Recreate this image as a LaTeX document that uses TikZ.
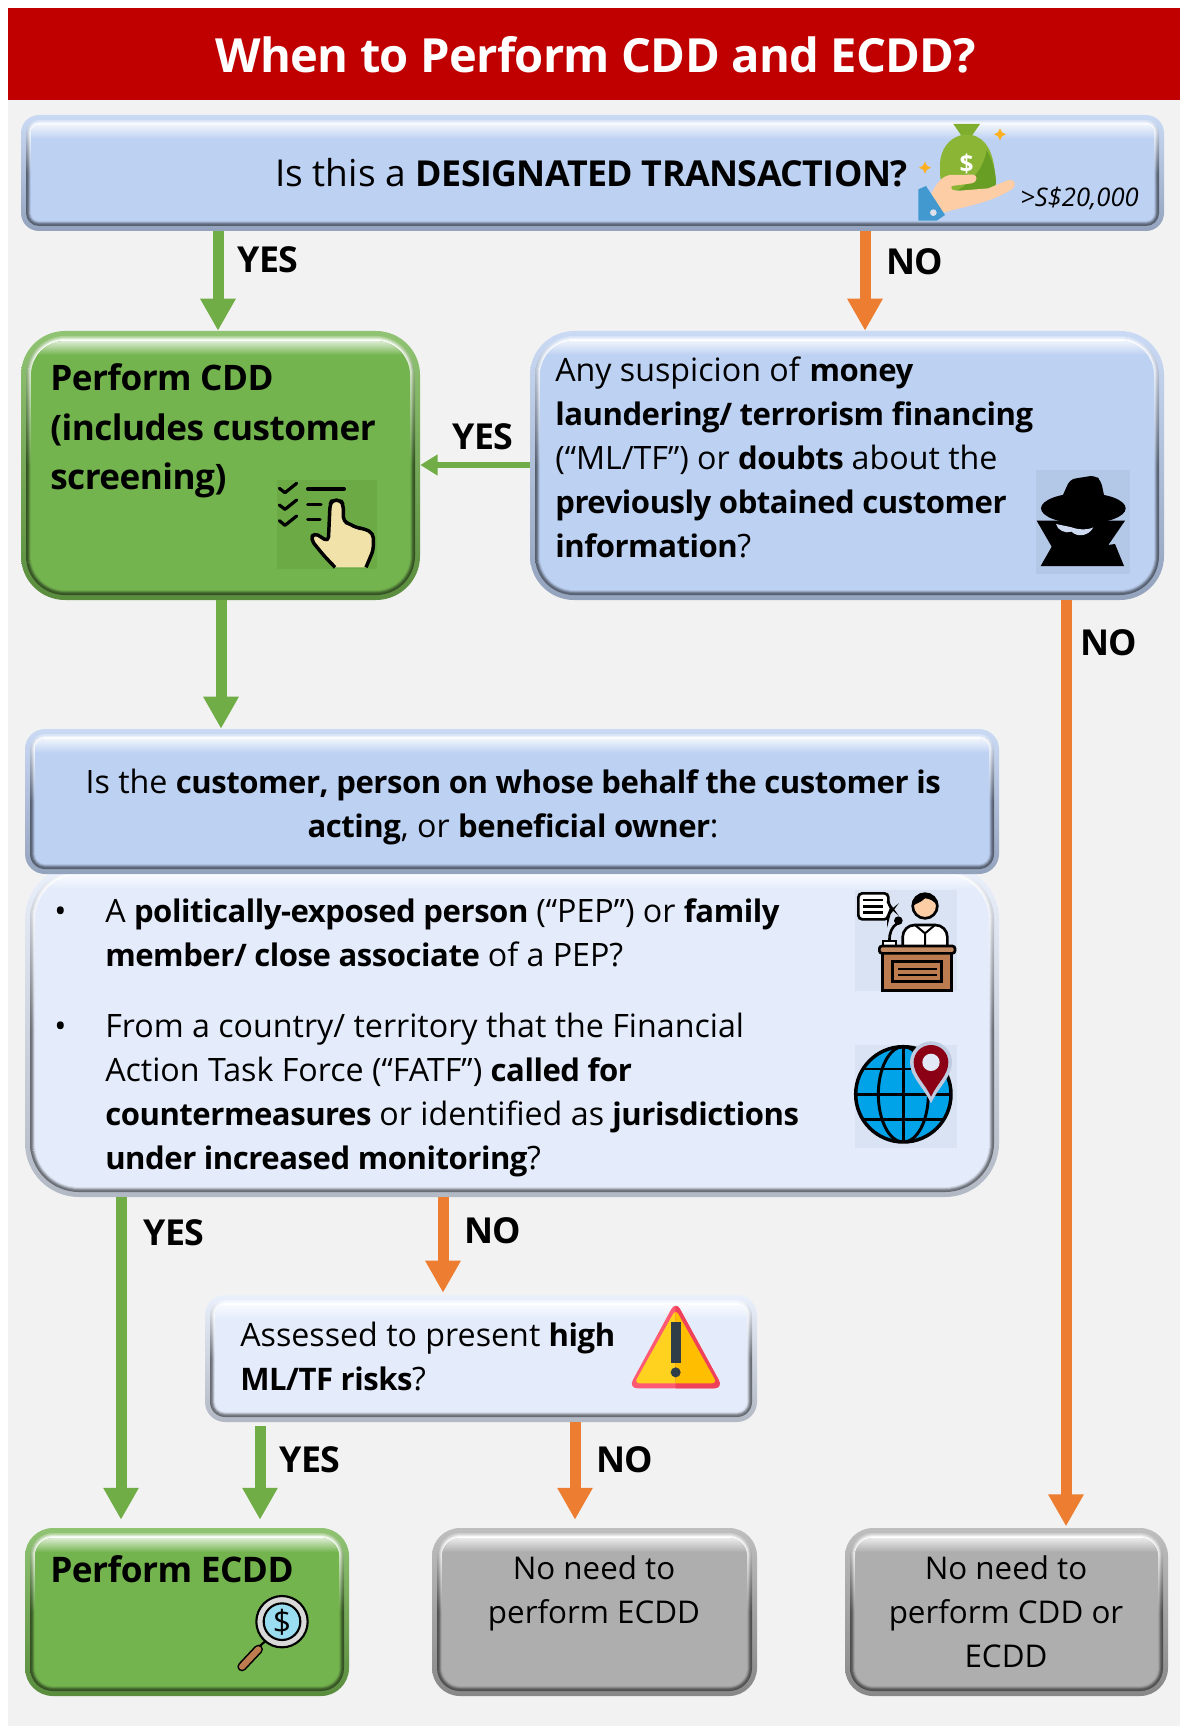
\documentclass[tikz,border=0pt]{standalone}
\usepackage{fontspec}
\setmainfont{Open Sans}[BoldFeatures={Scale=0.965,LetterSpace=-1.5}]
\usetikzlibrary{arrows.meta,fit,calc}
\definecolor{pagebg}{HTML}{F2F2F2}
\definecolor{headred}{HTML}{C00000}
\definecolor{bluebox}{HTML}{BDD1F2}
\definecolor{palebox}{HTML}{E4ECFB}
\definecolor{greenbox}{HTML}{74B44F}
\definecolor{greybox}{HTML}{AEAEAE}
\definecolor{greenarrow}{HTML}{70AD47}
\definecolor{orangearrow}{HTML}{ED7D31}
\definecolor{color-hand}{HTML}{F0E2A8}
\definecolor{color-skin}{HTML}{FDCDA5}
\definecolor{color-wood}{HTML}{BC7C50}
\definecolor{color-sea}{HTML}{00A2E8}
\definecolor{color-warn}{HTML}{FFD21F}
\definecolor{color-warnb}{HTML}{FFBE00}
\definecolor{color-lens}{HTML}{9ADCF0}
\definecolor{spark}{HTML}{FDB022}
\definecolor{bagtop}{HTML}{7FAE2E}
\newcommand\bevelbox[7]{%
  \begingroup
  \colorlet{bevbase}{#7}%
  \coordinate (#1-a) at (#2,#3);
  \coordinate (#1-b) at (#4,#5);
  \shade[rounded corners=#6*.75pt,top color=bevbase!80!white,bottom color=bevbase!78!black] (#2,#3) rectangle (#4,#5);
  \foreach \ins/\lt/\dk in {5/60/45,6/50/50,7/30/60,8/10/78,9/0/92}{
    \pgfmathsetmacro\xa{#2+\ins}\pgfmathsetmacro\ya{#3+\ins}
    \pgfmathsetmacro\xb{#4-\ins}\pgfmathsetmacro\yb{#5-\ins}
    \pgfmathsetmacro\rr{max(#6-\ins,3)}
    \shade[rounded corners=\rr*.75pt,top color=bevbase!\lt!white,bottom color=bevbase!\dk!black,middle color=bevbase!\dk!black] (\xa,\ya) rectangle (\xb,\yb);
  }
  \pgfmathsetmacro\xa{#2+10}\pgfmathsetmacro\ya{#3+10}
  \pgfmathsetmacro\xb{#4-10}\pgfmathsetmacro\yb{#5-10}
  \pgfmathsetmacro\rr{max(#6-10,3)}
  \fill[bevbase,rounded corners=\rr*.75pt] (\xa,\ya) rectangle (\xb,\yb);
  \pgfmathsetmacro\yc{\ya+14}
  \begin{scope}
    \clip[rounded corners=\rr*.75pt] (\xa,\ya) rectangle (\xb,\yb);
    \shade[top color=bevbase!25!white,bottom color=bevbase] (\xa,\ya) rectangle (\xb,\yc);
  \end{scope}
  \node[inner sep=0pt,fit=(#1-a)(#1-b)] (#1) {};
  \endgroup
}
\tikzset{
  x=.75pt,y=-.75pt,
  yesarrow/.style={line width=8.25pt,greenarrow,-{Triangle[length=24pt,width=25pt]}},
  noarrow/.style={line width=8.25pt,orangearrow,-{Triangle[length=24pt,width=25pt]}},
  txt/.style={inner sep=0pt,anchor=base west,align=left,text=black},
  ctr/.style={inner sep=0pt,anchor=base,align=center,text=black},
  lab/.style={inner sep=0pt,anchor=base west,font=\fontsize{27.8}{30}\selectfont\bfseries},
  body/.style={font=\fontsize{24.15}{33}\selectfont},
  greytext/.style={font=\fontsize{23.5}{33}\selectfont},
  zoomed/.style={x=.25pt,y=-.25pt},
}
\begin{document}
\begin{tikzpicture}[x=.75pt,y=-.75pt]
\useasboundingbox (0,0) rectangle (1180,1726);
\fill[white] (0,0) rectangle (1180,1726);
\fill[pagebg] (8,100) rectangle (1180,1726);
\fill[headred] (8,8) rectangle (1180,100);
\node[ctr,text=white,font=\fontsize{36.6}{42}\selectfont\bfseries] (title) at (596,73) {When to Perform CDD and ECDD?};

% boxes
\bevelbox{qone}{21}{115}{1164}{231}{18}{bluebox}
\bevelbox{cdd}{21}{331}{420}{600}{44}{greenbox}
\bevelbox{susp}{530}{331}{1164}{600}{44}{bluebox}
\bevelbox{list}{25}{865}{999}{1197}{54}{palebox}
\bevelbox{cust}{25}{729}{999}{874}{20}{bluebox}
\bevelbox{risk}{205}{1295}{757}{1422}{20}{palebox}
\bevelbox{ecdd}{25}{1528}{349}{1696}{28}{greenbox}
\bevelbox{noe}{432}{1528}{757}{1696}{28}{greybox}
\bevelbox{noc}{845}{1528}{1168}{1696}{28}{greybox}

% connector columns
\coordinate (xa) at (218,0);
\coordinate (xb) at (865,0);
\coordinate (xc) at (221,0);
\coordinate (xd) at (121,0);
\coordinate (xe) at (443,0);
\coordinate (xf) at (260,0);
\coordinate (xg) at (575,0);
\coordinate (xh) at (1066,0);
\coordinate (ya) at (0,465);

\draw[yesarrow] (qone.south -| xa) -- (cdd.north -| xa);
\draw[noarrow] (qone.south -| xb) -- (susp.north -| xb);
\draw[greenarrow,line width=4.5pt,-{Triangle[length=13pt,width=15pt]}] (susp.west |- ya) -- (cdd.east |- ya);
\draw[yesarrow] (cdd.south -| xc) -- (cust.north -| xc);
\draw[yesarrow,shorten >=6pt] (list.south -| xd) -- (ecdd.north -| xd);
\draw[noarrow,shorten >=1.5pt] (list.south -| xe) -- (risk.north -| xe);
\draw[yesarrow,shorten >=6pt,shorten <=3pt] (risk.south -| xf) -- (ecdd.north -| xf);
\draw[noarrow,shorten >=6pt] (risk.south -| xg) -- (noe.north -| xg);
\draw[noarrow,shorten >=1pt] (susp.south -| xh) -- (noc.north -| xh);

% labels
\node[lab] (l1) at (237,273) {YES};
\node[lab] (l2) at (886,275) {NO};
\node[lab] (l3) at (452,449) {YES};
\node[lab] (l4) at (1080,655) {NO};
\node[lab] (l5) at (143,1245) {YES};
\node[lab] (l6) at (464,1243) {NO};
\node[lab] (l7) at (279,1472) {YES};
\node[lab] (l8) at (596,1472) {NO};

% texts
\node[txt,font=\fontsize{27.8}{30}\selectfont] (t1) at (275,187) {Is this a \textbf{DESIGNATED TRANSACTION?}};
\node[txt,font=\fontsize{19.2}{22}\selectfont\itshape] (t1b) at (1020,207) {>S\$20,000};
\node[txt,font=\fontsize{27.3}{37}\selectfont\bfseries] (t2) at (50,489.5) {Perform CDD\\(includes customer\\screening)};
\node[txt,body] (t3) at (555,557) {Any suspicion of \textbf{money}\\\textbf{laundering/ terrorism financing}\\(“ML/TF”) or \textbf{doubts} about the\\\textbf{previously obtained customer}\\\textbf{information}?};
\node[ctr,body] (t4) at (513,837) {Is the \textbf{customer, person on whose behalf the customer is}\\\textbf{acting}, or \textbf{beneficial owner}:};
\node[txt,body] (b1) at (54,922) {•};
\node[txt,body] (t5) at (105,966.5) {A \textbf{politically-exposed person} (“PEP”) or \textbf{family}\\\textbf{member/ close associate} of a PEP?};
\node[txt,body] (b2) at (54,1037) {•};
\node[txt,body] (t6) at (105,1169) {From a country/ territory that the Financial\\Action Task Force (“FATF”) \textbf{called for}\\\textbf{countermeasures} or identified as \textbf{jurisdictions}\\\textbf{under increased monitoring}?};
\node[txt,body] (t7) at (240,1390) {Assessed to present \textbf{high}\\\textbf{ML/TF risks}?};
\node[txt,font=\fontsize{27.4}{32}\selectfont\bfseries] (t8) at (50,1582) {Perform ECDD};
\node[ctr,greytext] (t9) at (594,1623) {No need to\\perform ECDD};
\node[ctr,greytext] (t10) at (1006,1667) {No need to\\perform CDD or\\ECDD};

% money icon
\begin{scope}[shift={(820,100)},zoomed]
\fill[spark] (540,85)--(546,97)--(558,103)--(546,109)--(540,121)--(534,109)--(522,103)--(534,97)--cycle;
\fill[spark] (315,185)--(321,197)--(333,203)--(321,209)--(315,221)--(309,209)--(297,203)--(309,197)--cycle;
\fill[bagtop] (400,72)--(480,72)--(455,108)--(425,108)--cycle;
\fill[color={rgb,255:red,139;green,181;blue,53}] (425,105) -- (455,105) .. controls (500,115) and (520,160) .. (525,220) .. controls (530,250) and (530,272) .. (505,272) -- (410,272) .. controls (385,272) and (360,260) .. (360,220) -- (360,190) .. controls (362,150) and (385,115) .. (425,105) -- cycle;
\fill[color={rgb,255:red,105;green,158;blue,37}] (500,150) .. controls (515,175) and (522,200) .. (525,220) .. controls (530,250) and (530,272) .. (505,272) -- (410,272) .. controls (450,250) and (490,210) .. (500,150) -- cycle;
\node[inner sep=0pt,text=white,font=\fontsize{19}{20}\selectfont\bfseries] (dollar) at (440,192) {\$};
\fill[color-skin] (330,290) .. controls (345,255) and (365,228) .. (390,225) -- (460,224) .. controls (472,225) and (475,245) .. (455,250) -- (395,258) .. controls (390,268) and (400,274) .. (420,272) -- (505,265) -- (565,240) .. controls (585,238) and (592,255) .. (575,268) .. controls (510,310) and (430,320) .. (370,338) -- cycle;
\fill[color={rgb,255:red,66;green,153;blue,208}] (295,268) -- (318,258) -- (375,345) -- (350,362) -- (295,362) -- cycle;
\fill[color={rgb,255:red,220;green,225;blue,235}] (340,338) circle (10);
\end{scope}

% checklist icon
\begin{scope}[shift={(240,450)},zoomed]
\fill[color={rgb,255:red,107;green,170;blue,68}] (110,90) rectangle (410,358);
\draw[black,line width=2.4pt,line cap=round,line join=round] (118,115)--(135,128)--(170,100) (118,165)--(135,178)--(170,150) (118,212)--(135,226)--(170,198);
\draw[black,line width=2.4pt,line cap=round] (203,117)--(313,117) (203,163)--(243,163) (203,209)--(240,209);
\draw[black,line width=2.6pt,line join=round,rounded corners=3.5pt,fill=color-hand] (285,352) -- (250,315) -- (212,268) -- (222,248) -- (265,275) -- (270,165) -- (276,150) -- (302,150) -- (310,165) -- (310,215) -- (330,222) -- (350,234) -- (370,235) -- (400,250) -- (400,300) -- (378,352);
\end{scope}

% spy icon
\begin{scope}[shift={(1000,450)},zoomed]
\fill[color={rgb,255:red,179;green,199;blue,230}] (108,60) rectangle (390,372);
\fill[black] (110,212) -- (375,212) -- (325,285) -- (345,282) -- (372,348) -- (122,348) -- (155,290) -- cycle;
\fill[black] (250,175) ellipse [x radius=127,y radius=46];
\fill[black,rounded corners=4pt] (182,150) -- (210,88) -- (285,76) -- (303,92) -- (315,150) -- cycle;
\fill[color={rgb,255:red,205;green,218;blue,240}] (168,222) .. controls (172,240) and (195,252) .. (215,245) .. controls (230,262) and (265,260) .. (280,232) .. controls (265,240) and (235,240) .. (215,232) .. controls (200,228) and (180,225) .. (168,222) -- cycle;
\end{scope}

% podium icon
\begin{scope}[shift={(830,870)},zoomed]
\fill[color={rgb,255:red,218;green,227;blue,243}] (75,60) rectangle (380,362);
\draw[black,line width=2pt,fill=white,rounded corners=3pt] (85,70) -- (175,70) -- (175,105) -- (190,118) -- (175,130) -- (175,148) -- (85,148) -- cycle;
\draw[black,line width=2pt] (100,90)--(160,90) (100,109)--(160,109) (100,128)--(160,128);
\draw[black,line width=2pt,fill=white,rounded corners=9pt] (218,228) -- (218,165) -- (352,165) -- (352,228);
\draw[black,line width=1.5pt] (285,190) -- (285,228) (255,165) -- (285,190) -- (315,165);
\draw[black,line width=2pt,fill=color-skin] (285,108) circle (37);
\fill[black] (250,108) arc[start angle=180,end angle=360,radius=36] .. controls (315,95) and (300,85) .. (285,85) .. controls (270,100) and (255,100) .. (250,108) -- cycle;
\draw[black,line width=2pt] (202,160) .. controls (185,170) and (178,190) .. (178,212);
\fill[black] (205,152) circle (13);
\draw[black,line width=1.5pt,fill=white] (160,212) rectangle (198,228);
\draw[black,line width=2pt,fill=color-wood] (158,248) rectangle (365,362);
\draw[black,line width=2pt,fill=color-wood!90!white,rounded corners=2pt] (148,228) rectangle (375,250);
\draw[black,line width=2pt,fill=color-wood] (188,275) rectangle (335,335);
\draw[black,line width=1.5pt] (205,298)--(320,298) (205,315)--(320,315);
\end{scope}

% globe icon
\begin{scope}[shift={(830,870)},zoomed]
\fill[color={rgb,255:red,218;green,227;blue,243}] (75,525) rectangle (380,833);
\draw[black,line width=2.6pt,fill=color-sea] (220,673) circle (143);
\begin{scope}
\clip (220,673) circle (143);
\draw[black,line width=2.2pt] (220,673) ellipse [x radius=75,y radius=143];
\draw[black,line width=2.2pt] (220,525)--(220,820) (70,597)--(370,597) (70,673)--(370,673) (70,748)--(370,748);
\end{scope}
\fill[color={rgb,255:red,190;green,203;blue,224}] (303,700) .. controls (280,650) and (240,620) .. (240,577) arc[start angle=180,end angle=360,radius=63] .. controls (366,620) and (326,650) .. (303,700) -- cycle;
\fill[color={rgb,255:red,139;green,0;blue,20}] (303,680) .. controls (285,640) and (251,615) .. (251,577) arc[start angle=180,end angle=360,radius=52] .. controls (355,615) and (321,640) .. (303,680) -- cycle;
\fill[color={rgb,255:red,226;green,232;blue,245}] (303,577) circle (26);
\end{scope}

% warning icon
\begin{scope}[shift={(600,1280)},zoomed]
\fill[color={rgb,255:red,255;green,90;blue,115},rounded corners=7pt] (227,63) -- (85,325) -- (370,325) -- cycle;
\fill[color-warn,rounded corners=4pt] (227,88) -- (103,310) -- (351,310) -- cycle;
\begin{scope}
\clip (227,60) rectangle (380,340);
\fill[color={rgb,255:red,240;green,65;blue,90},rounded corners=7pt] (227,63) -- (85,325) -- (370,325) -- cycle;
\fill[color-warnb,rounded corners=4pt] (227,88) -- (103,310) -- (351,310) -- cycle;
\end{scope}
\fill[color={rgb,255:red,47;green,61;blue,72}] (212,125) rectangle (242,248);
\fill[color={rgb,255:red,47;green,61;blue,72}] (227,277) circle (15);
\end{scope}

% magnifier icon
\begin{scope}[shift={(0,1500)},zoomed]
\draw[black,line width=1.6pt] (800,420) -- (768,448);
\draw[black,line width=7pt,line cap=round] (775,448) -- (726,500);
\draw[color-wood,line width=4.6pt,line cap=round] (775,448) -- (726,500);
\draw[black,line width=1.6pt,fill=black!15] (846,365) circle (77);
\draw[black,line width=1.6pt,fill=color-lens] (846,365) circle (55);
\node[inner sep=0pt,font=\fontsize{24}{26}\selectfont] (lens) at (846,367) {\$};
\end{scope}
\end{tikzpicture}
\end{document}
